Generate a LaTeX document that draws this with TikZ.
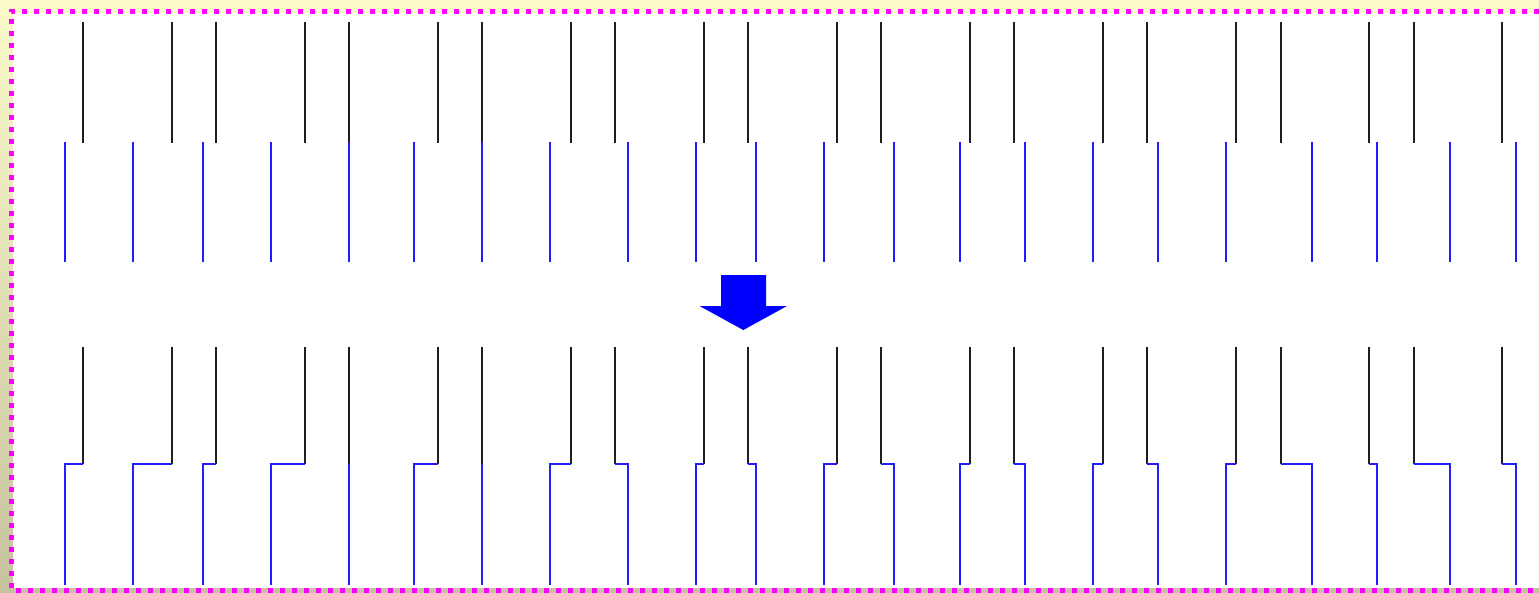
\documentclass[tikz,border=0pt]{standalone}
\begin{document}
\begin{tikzpicture}[x=1pt,y=-1pt,
  blk/.style={draw=black!88,line width=2pt},
  blu/.style={draw={rgb,255:red,30;green,30;blue,255},line width=2pt},
  frame/.style={draw={rgb,255:red,255;green,0;blue,255},line width=5pt,dash pattern=on 5pt off 7pt},
  blockarrow/.style={fill=blue,draw=none}]
\useasboundingbox (0,0) rectangle (1539,592);
\shade[top color={rgb,255:red,251;green,250;blue,202},bottom color={rgb,255:red,198;green,194;blue,160}] (0,0) rectangle (1539,592);
\fill[white] (13,13) rectangle (1539,588);
\draw[frame] (1539,11) -- (11,11) -- (11,590) -- (1539,590);
% pairs: black x / blue x
\foreach \bx/\ux [count=\i] in {83/65,172/133,216/203,305/271,349/349,438/414,482/482,571/550,615/628,704/696,748/756,837/824,881/894,970/960,1014/1025,1103/1093,1147/1158,1236/1226,1281/1312,1369/1377,1414/1450,1502/1516}{
  \coordinate (ta\i) at (\bx,22);
  \coordinate (tb\i) at (\bx,143);
  \coordinate (tc\i) at (\ux,142);
  \coordinate (td\i) at (\ux,262);
  \draw[blk] (ta\i) -- (tb\i);
  \draw[blu] (tc\i) -- (td\i);
  \coordinate (ba\i) at (\bx,347);
  \coordinate (bb\i) at (\bx,464);
  \coordinate (bc\i) at (\ux,464);
  \coordinate (bd\i) at (\ux,585);
  \draw[blk] (ba\i) -- (bb\i);
  \draw[blu,line join=miter] (bb\i) -- (bc\i) -- (bd\i);
}
% block arrow
\coordinate (arrtip) at (743.3,330);
\fill[blockarrow] (721,275) -- (766,275) -- (766,306) -- (787,306) -- (arrtip) -- (699.5,306) -- (721,306) -- cycle;
\end{tikzpicture}
\end{document}
